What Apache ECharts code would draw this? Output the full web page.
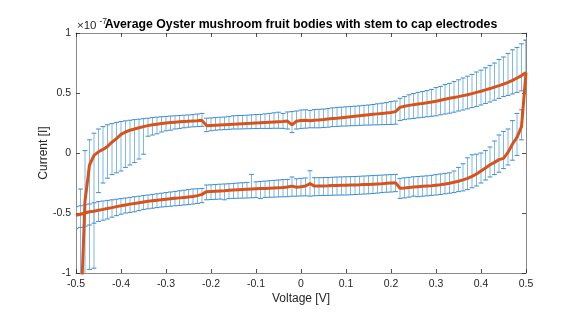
<!DOCTYPE html>
<html><head><meta charset="utf-8">
<script src="https://cdn.jsdelivr.net/npm/echarts@6/dist/echarts.min.js"></script>
<style>html,body{margin:0;padding:0;background:#fff}#c{width:581px;height:316px}</style>
</head><body><div id="c"></div>
<script>
const voltage = [-0.50,-0.49,-0.48,-0.47,-0.46,-0.45,-0.44,-0.43,-0.42,-0.41,-0.40,-0.39,-0.38,-0.37,-0.36,-0.35,-0.34,-0.33,-0.32,-0.31,-0.30,-0.29,-0.28,-0.27,-0.26,-0.25,-0.24,-0.23,-0.22,-0.21,-0.20,-0.19,-0.18,-0.17,-0.16,-0.15,-0.14,-0.13,-0.12,-0.11,-0.10,-0.09,-0.08,-0.07,-0.06,-0.05,-0.04,-0.03,-0.02,-0.01,0.00,0.01,0.02,0.03,0.04,0.05,0.06,0.07,0.08,0.09,0.10,0.11,0.12,0.13,0.14,0.15,0.16,0.17,0.18,0.19,0.20,0.21,0.22,0.23,0.24,0.25,0.26,0.27,0.28,0.29,0.30,0.31,0.32,0.33,0.34,0.35,0.36,0.37,0.38,0.39,0.40,0.41,0.42,0.43,0.44,0.45,0.46,0.47,0.48,0.49,0.50];

// upper (return) branch, current in units of 1e-7 A
const upperMean = [null,-1.4,-0.40,-0.10,-0.02,0.01,0.03,0.055,0.09,0.12,0.155,0.175,0.19,0.20,0.21,0.22,0.228,0.235,0.24,0.245,0.25,0.254,0.257,0.26,0.263,0.265,0.267,0.269,0.272,0.228,0.23,0.232,0.234,0.236,0.238,0.24,0.242,0.244,0.246,0.248,0.25,0.252,0.254,0.256,0.258,0.26,0.262,0.266,0.235,0.265,0.27,0.273,0.268,0.272,0.276,0.279,0.283,0.287,0.29,0.294,0.298,0.302,0.306,0.31,0.314,0.318,0.322,0.326,0.33,0.334,0.338,0.345,0.38,0.39,0.397,0.403,0.408,0.413,0.419,0.425,0.432,0.44,0.448,0.456,0.463,0.47,0.478,0.486,0.495,0.505,0.515,0.526,0.537,0.549,0.561,0.574,0.588,0.605,0.625,0.645,0.67];
const upperHigh = [null,-0.3,0.02,0.11,0.165,0.20,0.22,0.235,0.245,0.255,0.262,0.268,0.273,0.278,0.282,0.286,0.29,0.295,0.299,0.302,0.305,0.308,0.31,0.312,0.315,0.317,0.32,0.325,0.33,0.29,0.292,0.295,0.298,0.30,0.305,0.31,0.312,0.313,0.315,0.318,0.32,0.322,0.326,0.33,0.335,0.34,0.33,0.342,0.345,0.35,0.358,0.36,0.355,0.362,0.364,0.366,0.37,0.376,0.38,0.382,0.385,0.388,0.39,0.393,0.397,0.40,0.404,0.41,0.415,0.42,0.428,0.433,0.456,0.47,0.485,0.495,0.505,0.512,0.52,0.53,0.545,0.555,0.57,0.58,0.595,0.61,0.625,0.64,0.655,0.675,0.69,0.71,0.73,0.75,0.78,0.80,0.83,0.86,0.88,0.91,0.94];
const upperLow = [null,-2.5,-1.3,-0.97,-0.96,-0.33,-0.25,-0.21,-0.18,-0.165,-0.15,-0.12,-0.10,-0.08,-0.05,-0.01,0.14,0.15,0.16,0.175,0.185,0.19,0.2,0.205,0.21,0.215,0.218,0.22,0.222,0.178,0.185,0.19,0.193,0.195,0.197,0.2,0.2,0.201,0.202,0.203,0.204,0.205,0.205,0.205,0.206,0.206,0.205,0.2,0.17,0.2,0.205,0.207,0.21,0.21,0.21,0.212,0.215,0.22,0.222,0.224,0.225,0.227,0.228,0.23,0.232,0.233,0.234,0.235,0.236,0.237,0.238,0.24,0.27,0.278,0.284,0.288,0.293,0.297,0.302,0.306,0.31,0.318,0.325,0.332,0.34,0.35,0.358,0.368,0.378,0.388,0.40,0.413,0.425,0.44,0.455,0.47,0.48,0.492,0.505,0.518,0.53];

// lower (forward) branch
const lowerMean = [-0.52,-0.51,-0.50,-0.49,-0.485,-0.477,-0.47,-0.462,-0.455,-0.447,-0.44,-0.433,-0.426,-0.42,-0.414,-0.408,-0.403,-0.398,-0.394,-0.39,-0.386,-0.382,-0.378,-0.374,-0.37,-0.366,-0.362,-0.355,-0.345,-0.322,-0.32,-0.318,-0.316,-0.314,-0.311,-0.308,-0.306,-0.304,-0.302,-0.3,-0.298,-0.296,-0.295,-0.293,-0.291,-0.289,-0.287,-0.284,-0.276,-0.285,-0.281,-0.275,-0.255,-0.276,-0.275,-0.274,-0.273,-0.271,-0.27,-0.269,-0.268,-0.267,-0.266,-0.265,-0.263,-0.262,-0.26,-0.258,-0.256,-0.253,-0.25,-0.247,-0.294,-0.292,-0.288,-0.284,-0.281,-0.278,-0.275,-0.272,-0.268,-0.264,-0.259,-0.252,-0.244,-0.235,-0.224,-0.212,-0.195,-0.175,-0.15,-0.125,-0.098,-0.078,-0.055,-0.045,0.005,0.075,0.13,0.22,0.67];
const lowerHigh = [-0.447,-0.44,-0.432,-0.425,-0.415,-0.405,-0.4,-0.395,-0.39,-0.385,-0.38,-0.375,-0.37,-0.364,-0.36,-0.355,-0.35,-0.345,-0.34,-0.335,-0.33,-0.325,-0.32,-0.315,-0.31,-0.305,-0.3,-0.298,-0.295,-0.267,-0.265,-0.262,-0.26,-0.258,-0.256,-0.253,-0.25,-0.248,-0.245,-0.178,-0.24,-0.237,-0.234,-0.231,-0.228,-0.225,-0.222,-0.22,-0.2,-0.215,-0.211,-0.208,-0.148,-0.206,-0.206,-0.205,-0.204,-0.202,-0.2,-0.199,-0.198,-0.197,-0.196,-0.194,-0.192,-0.19,-0.188,-0.186,-0.184,-0.182,-0.18,-0.178,-0.211,-0.207,-0.203,-0.198,-0.196,-0.193,-0.19,-0.186,-0.18,-0.175,-0.17,-0.165,-0.15,-0.12,-0.09,-0.04,-0.015,-0.01,0.0,0.02,0.05,0.1,0.15,0.18,0.2,0.27,0.33,0.36,0.94];
const lowerLow = [-0.63,-0.62,-0.61,-0.60,-0.585,-0.57,-0.56,-0.55,-0.535,-0.522,-0.51,-0.5,-0.495,-0.49,-0.48,-0.47,-0.465,-0.46,-0.455,-0.45,-0.447,-0.444,-0.44,-0.437,-0.433,-0.43,-0.425,-0.42,-0.414,-0.39,-0.388,-0.386,-0.384,-0.39,-0.38,-0.378,-0.377,-0.376,-0.375,-0.373,-0.372,-0.38,-0.37,-0.369,-0.368,-0.366,-0.365,-0.364,-0.36,-0.36,-0.358,-0.357,-0.36,-0.356,-0.355,-0.354,-0.353,-0.352,-0.351,-0.35,-0.35,-0.348,-0.346,-0.344,-0.342,-0.34,-0.337,-0.334,-0.33,-0.327,-0.325,-0.322,-0.378,-0.374,-0.368,-0.36,-0.364,-0.36,-0.357,-0.353,-0.35,-0.346,-0.34,-0.335,-0.33,-0.322,-0.316,-0.305,-0.29,-0.275,-0.25,-0.225,-0.2,-0.18,-0.16,-0.13,-0.1,-0.06,-0.02,0.11,0.53];

const xTicks = [-0.5,-0.4,-0.3,-0.2,-0.1,0,0.1,0.2,0.3,0.4,0.5];
const yTicks = [-1,-0.5,0,0.5,1];

function pairs(m){ const out=[]; voltage.forEach((v,i)=>{ if(m[i]!==null) out.push([v,m[i]]); }); return out; }
function bars(lo,hi){ const out=[]; voltage.forEach((v,i)=>{ if(lo[i]!==null) out.push([v,lo[i],hi[i]]); }); return out; }

const BAR='#7fb7e7', CAP='#3d8bd0', ORANGE='#D95319', AX='#262626';
function renderBar(params, api){
  const x=api.value(0), lo=api.coord([x,api.value(1)]), hi=api.coord([x,api.value(2)]);
  const w=2.4;
  return {type:'group', children:[
    {type:'line', shape:{x1:lo[0],y1:lo[1],x2:hi[0],y2:hi[1]}, style:{stroke:BAR,lineWidth:1}},
    {type:'line', shape:{x1:lo[0]-w,y1:lo[1],x2:lo[0]+w,y2:lo[1]}, style:{stroke:CAP,lineWidth:1}},
    {type:'line', shape:{x1:hi[0]-w,y1:hi[1],x2:hi[0]+w,y2:hi[1]}, style:{stroke:CAP,lineWidth:1}}
  ]};
}

const chart = echarts.init(document.getElementById('c'), null, {renderer:'canvas'});
const font = 'Liberation Sans, Arial, Helvetica, sans-serif';
const tickStyle = {show:true, inside:true, length:4, lineStyle:{color:AX, width:0.8}};
const lineStyleAx = {show:true, onZero:false, lineStyle:{color:'#8a8a8a', width:1}};
chart.setOption({
  animation:false,
  grid:{left:76, right:55, top:33, bottom:43, containLabel:false},
  xAxis:[
    {type:'value', min:-0.5, max:0.5, interval:0.1, position:'bottom', axisLine:lineStyleAx, axisTick:tickStyle, splitLine:{show:false},
     axisLabel:{color:AX, fontSize:10.5, fontFamily:font, margin:6}},
    {type:'value', min:-0.5, max:0.5, interval:0.1, position:'top', axisLine:lineStyleAx, axisTick:tickStyle, splitLine:{show:false}, axisLabel:{show:false}}
  ],
  yAxis:[
    {type:'value', min:-1, max:1, interval:0.5, position:'left', axisLine:lineStyleAx, axisTick:tickStyle, splitLine:{show:false},
     axisLabel:{color:AX, fontSize:10.5, fontFamily:font, margin:5}},
    {type:'value', min:-1, max:1, interval:0.5, position:'right', axisLine:lineStyleAx, axisTick:tickStyle, splitLine:{show:false}, axisLabel:{show:false}}
  ],
  series:[
    {type:'custom', name:'upperErr', renderItem:renderBar, data:bars(upperLow,upperHigh), encode:{x:0,y:[1,2]}, clip:true, z:1, silent:true},
    {type:'custom', name:'lowerErr', renderItem:renderBar, data:bars(lowerLow,lowerHigh), encode:{x:0,y:[1,2]}, clip:true, z:1, silent:true},
    {type:'line', name:'upper', data:pairs(upperMean), showSymbol:false, clip:true, z:3, lineStyle:{color:ORANGE, width:3}, itemStyle:{color:ORANGE}},
    {type:'line', name:'lower', data:pairs(lowerMean), showSymbol:false, clip:true, z:3, lineStyle:{color:ORANGE, width:3}, itemStyle:{color:ORANGE}}
  ],
  graphic:[
    {type:'text', x:77, y:26, style:{text:'×10', fontSize:11.5, fill:AX, fontFamily:font, textVerticalAlign:'middle'}},
    {type:'text', x:99.5, y:22, style:{text:'-7', fontSize:8.5, fill:AX, fontFamily:font, textVerticalAlign:'middle'}},
    {type:'text', x:301, y:24.5, style:{text:'Average Oyster mushroom fruit bodies with stem to cap electrodes', fontSize:12.3, fontWeight:'bold', fill:'#000', fontFamily:font, textAlign:'center', textVerticalAlign:'middle'}},
    {type:'text', x:301, y:299, style:{text:'Voltage [V]', fontSize:12, fill:AX, fontFamily:font, textAlign:'center', textVerticalAlign:'middle'}},
    {type:'text', x:44, y:153, rotation:Math.PI/2, style:{text:'Current [I]', fontSize:12, fill:AX, fontFamily:font, textAlign:'center', textVerticalAlign:'middle'}}
  ]
});
</script></body></html>
